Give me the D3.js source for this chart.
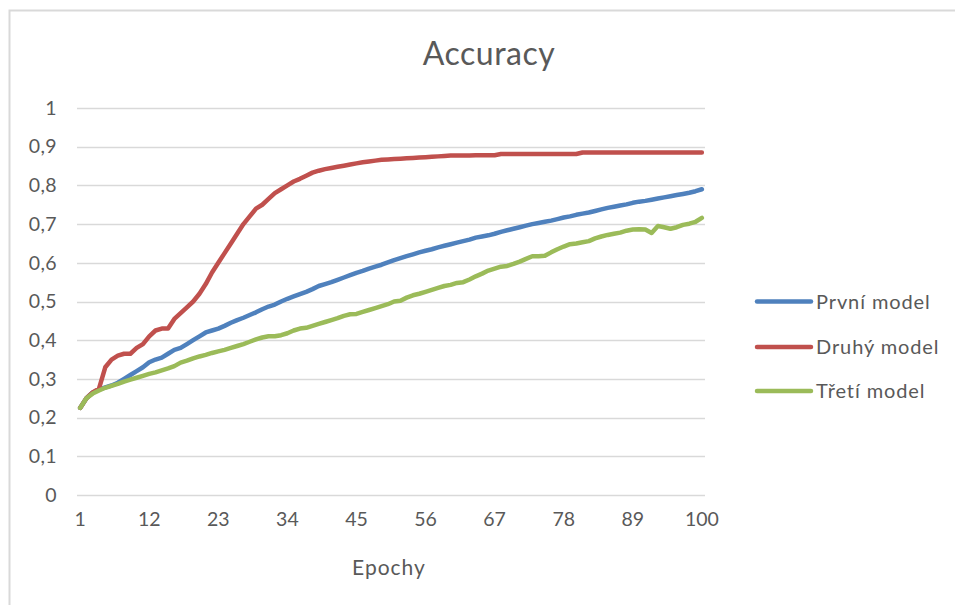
<!DOCTYPE html>
<html>
<head>
<meta charset="utf-8">
<script src="https://cdn.jsdelivr.net/npm/d3@7"></script>
<style>
  html, body { margin: 0; padding: 0; background: #ffffff; }
  svg { display: block; font-family: Lato, "Open Sans", sans-serif; }
</style>
</head>
<body>
<svg id="chart" width="955" height="605"></svg>
<script>
const title = "Accuracy";
const xAxisTitle = "Epochy";
const seriesNames = ["První model", "Druhý model", "Třetí model"];
const seriesColors = ["#4F81BD", "#C0504D", "#9BBB59"];
const epochs = d3.range(1, 101);
const xTickLabels = [1, 12, 23, 34, 45, 56, 67, 78, 89, 100];
const yTickValues = [0, 0.1, 0.2, 0.3, 0.4, 0.5, 0.6, 0.7, 0.8, 0.9, 1];

const prvni = [
  0.225, 0.25, 0.265, 0.272, 0.278, 0.283, 0.29, 0.30, 0.31, 0.32,
  0.33, 0.343, 0.35, 0.355, 0.365, 0.375, 0.38, 0.39, 0.40, 0.41,
  0.42, 0.425, 0.43, 0.437, 0.445, 0.452, 0.458, 0.465, 0.472, 0.48,
  0.487, 0.492, 0.50, 0.507, 0.513, 0.519, 0.525, 0.532, 0.54, 0.545,
  0.55, 0.556, 0.562, 0.568, 0.574, 0.579, 0.585, 0.59, 0.595, 0.601,
  0.607, 0.612, 0.617, 0.622, 0.627, 0.631, 0.635, 0.64, 0.644, 0.648,
  0.652, 0.656, 0.66, 0.665, 0.668, 0.671, 0.675, 0.68, 0.684, 0.688,
  0.692, 0.696, 0.70, 0.703, 0.706, 0.709, 0.713, 0.717, 0.72, 0.724,
  0.727, 0.73, 0.734, 0.738, 0.742, 0.745, 0.748, 0.751, 0.755, 0.758,
  0.76, 0.763, 0.766, 0.769, 0.772, 0.775, 0.778, 0.781, 0.785, 0.79
];

const druhy = [
  0.225, 0.25, 0.265, 0.275, 0.33, 0.35, 0.36, 0.365, 0.365, 0.38,
  0.39, 0.41, 0.425, 0.43, 0.43, 0.455, 0.47, 0.485, 0.50, 0.52,
  0.545, 0.575, 0.60, 0.625, 0.65, 0.675, 0.70, 0.72, 0.74, 0.75,
  0.765, 0.78, 0.79, 0.80, 0.81, 0.817, 0.825, 0.833, 0.838, 0.842,
  0.845, 0.848, 0.851, 0.854, 0.857, 0.86, 0.862, 0.864, 0.866, 0.867,
  0.868, 0.869, 0.87, 0.871, 0.872, 0.873, 0.874, 0.875, 0.876, 0.877,
  0.877, 0.877, 0.877, 0.878, 0.878, 0.878, 0.878, 0.881, 0.881, 0.881,
  0.881, 0.881, 0.881, 0.881, 0.881, 0.881, 0.881, 0.881, 0.881, 0.881,
  0.885, 0.885, 0.885, 0.885, 0.885, 0.885, 0.885, 0.885, 0.885, 0.885,
  0.885, 0.885, 0.885, 0.885, 0.885, 0.885, 0.885, 0.885, 0.885, 0.885
];

const treti = [
  0.225, 0.25, 0.262, 0.27, 0.277, 0.282, 0.287, 0.293, 0.298, 0.303,
  0.308, 0.313, 0.317, 0.322, 0.327, 0.333, 0.342, 0.347, 0.353, 0.358,
  0.362, 0.367, 0.371, 0.375, 0.38, 0.385, 0.39, 0.396, 0.402, 0.407,
  0.41, 0.41, 0.413, 0.418, 0.425, 0.43, 0.432, 0.437, 0.442, 0.447,
  0.452, 0.457, 0.463, 0.467, 0.468, 0.473, 0.478, 0.483, 0.488, 0.493,
  0.50, 0.502, 0.51, 0.516, 0.52, 0.525, 0.53, 0.535, 0.54, 0.543,
  0.548, 0.55, 0.557, 0.565, 0.572, 0.58, 0.585, 0.59, 0.592, 0.597,
  0.603, 0.61, 0.617, 0.617, 0.618, 0.627, 0.635, 0.642, 0.648, 0.65,
  0.653, 0.656, 0.663, 0.668, 0.672, 0.675, 0.678, 0.683, 0.686, 0.687,
  0.686, 0.677, 0.695, 0.692, 0.688, 0.692, 0.698, 0.701, 0.706, 0.716
];

const seriesValues = [prvni, druhy, treti];

const svg = d3.select("#chart");
const textColor = "#595959";
const gridColor = "#d9d9d9";

// chart border (only top/left visible in frame)
svg.append("rect")
  .attr("x", 9.5).attr("y", 10.5)
  .attr("width", 960).attr("height", 610)
  .attr("fill", "#ffffff")
  .attr("stroke", gridColor)
  .attr("stroke-width", 2);

const plot = { left: 77, right: 705, top: 108, bottom: 495 };

const x = d3.scaleBand()
  .domain(epochs)
  .range([plot.left, plot.right])
  .padding(0);
const xc = d => x(d) + x.bandwidth() / 2;

const y = d3.scaleLinear()
  .domain([0, 1])
  .range([plot.bottom, plot.top]);

// gridlines
svg.append("g")
  .selectAll("line")
  .data(yTickValues)
  .join("line")
  .attr("x1", plot.left).attr("x2", plot.right)
  .attr("y1", d => Math.round(y(d)) + 0.5)
  .attr("y2", d => Math.round(y(d)) + 0.5)
  .attr("stroke", gridColor)
  .attr("stroke-width", 1.5);

// y axis labels
const fmtY = d => d3.format(".1~f")(d).replace(".", ",");
const yAxis = d3.axisLeft(y).tickValues(yTickValues).tickFormat(fmtY).tickSize(0).tickPadding(0);
const gy = svg.append("g").attr("transform", `translate(${plot.left - 20},0)`).call(yAxis);
gy.select(".domain").remove();
gy.selectAll("text")
  .attr("fill", textColor)
  .attr("font-size", 19.5)
  .attr("letter-spacing", 0.4)
  .attr("font-family", "Lato, 'Open Sans', sans-serif");

// x axis labels
const xAxis = d3.axisBottom(x).tickValues(xTickLabels).tickSize(0).tickPadding(0);
const gx = svg.append("g").attr("transform", `translate(0,${plot.bottom + 17})`).call(xAxis);
gx.select(".domain").remove();
gx.selectAll("text")
  .attr("fill", textColor)
  .attr("font-size", 19.5)
  .attr("font-family", "Lato, 'Open Sans', sans-serif");

// lines
const line = d3.line()
  .x((d, i) => xc(epochs[i]))
  .y(d => y(d));

svg.append("g")
  .selectAll("path")
  .data(seriesValues)
  .join("path")
  .attr("d", d => line(d))
  .attr("fill", "none")
  .attr("stroke", (d, i) => seriesColors[i])
  .attr("stroke-width", 4.5)
  .attr("stroke-linejoin", "round")
  .attr("stroke-linecap", "round");

// title
svg.append("text")
  .attr("x", 489).attr("y", 65)
  .attr("text-anchor", "middle")
  .attr("fill", textColor)
  .attr("font-size", 32)
  .attr("letter-spacing", 0.5)
  .text(title);

// x axis title
svg.append("text")
  .attr("x", 389).attr("y", 575)
  .attr("text-anchor", "middle")
  .attr("fill", textColor)
  .attr("font-size", 21)
  .attr("letter-spacing", 1)
  .text(xAxisTitle);

// legend
const legendY = [301.5, 347, 391];
const lg = svg.append("g")
  .selectAll("g")
  .data(seriesNames)
  .join("g")
  .attr("transform", (d, i) => `translate(0,${legendY[i]})`);
lg.append("line")
  .attr("x1", 757).attr("x2", 811)
  .attr("y1", 0).attr("y2", 0)
  .attr("stroke", (d, i) => seriesColors[i])
  .attr("stroke-width", 4.5)
  .attr("stroke-linecap", "round");
lg.append("text")
  .attr("x", 816).attr("y", 0)
  .attr("dy", "0.35em")
  .attr("fill", textColor)
  .attr("font-size", 20)
  .attr("letter-spacing", 0.9)
  .text(d => d);
</script>
</body>
</html>
